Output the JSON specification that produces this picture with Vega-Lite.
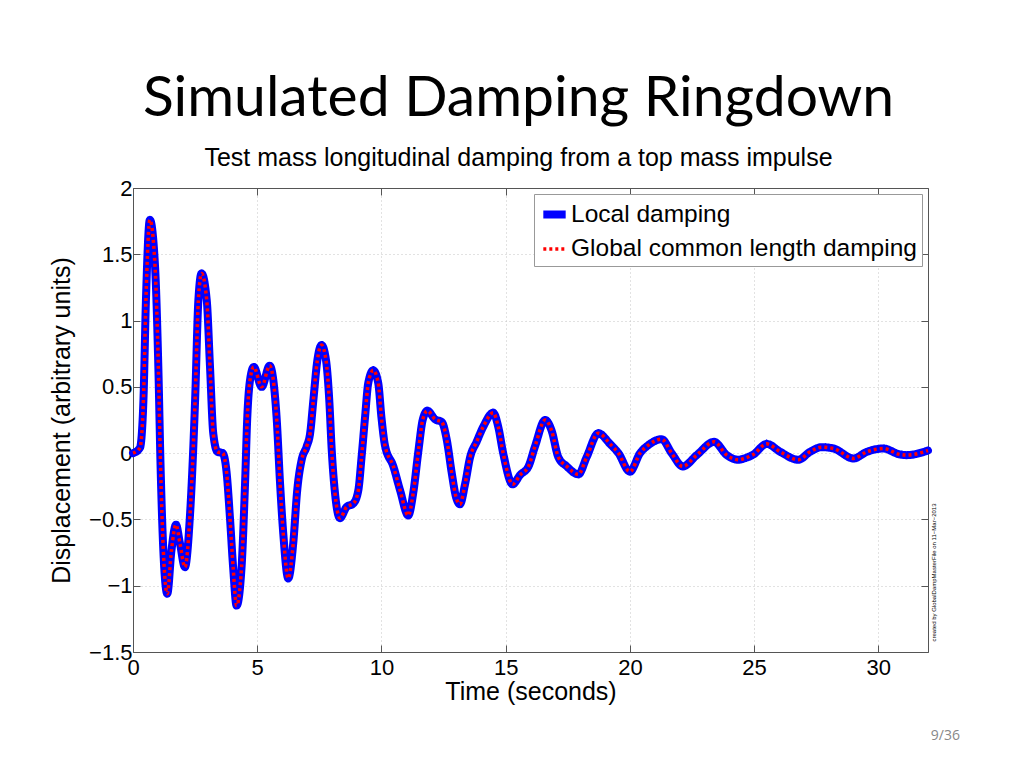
{
  "$schema": "https://vega.github.io/schema/vega-lite/v6.json",
  "autosize": "none",
  "width": 795,
  "height": 464,
  "padding": {"left": 133, "top": 188, "right": 96, "bottom": 116},
  "background": "white",
  "title": {
    "text": "Simulated Damping Ringdown",
    "subtitle": "Test mass longitudinal damping from a top mass impulse",
    "anchor": "middle",
    "font": "Lato",
    "fontSize": 57,
    "fontWeight": "normal",
    "color": "black",
    "subtitleFont": "Liberation Sans",
    "subtitleFontSize": 25,
    "subtitleColor": "black",
    "subtitlePadding": 18,
    "offset": 5,
    "dx": -12
  },
  "datasets": {
    "ringdown": [
      {"t": 0, "d": 0}, {"t": 0.28, "d": 0.04}, {"t": 0.42, "d": 0.4}, {"t": 0.52, "d": 1.15},
      {"t": 0.68, "d": 1.76}, {"t": 0.89, "d": 1.4}, {"t": 1.02, "d": 0.65}, {"t": 1.11, "d": -0.1},
      {"t": 1.22, "d": -0.73}, {"t": 1.38, "d": -1.06}, {"t": 1.55, "d": -0.73}, {"t": 1.73, "d": -0.54},
      {"t": 1.89, "d": -0.68}, {"t": 2.09, "d": -0.86}, {"t": 2.29, "d": -0.48}, {"t": 2.5, "d": 0.4},
      {"t": 2.63, "d": 1.15}, {"t": 2.76, "d": 1.355}, {"t": 2.97, "d": 1.15}, {"t": 3.1, "d": 0.65},
      {"t": 3.23, "d": 0.15}, {"t": 3.4, "d": 0.01}, {"t": 3.61, "d": 0}, {"t": 3.77, "d": -0.15},
      {"t": 3.9, "d": -0.48}, {"t": 4.03, "d": -0.86}, {"t": 4.17, "d": -1.15}, {"t": 4.37, "d": -0.86},
      {"t": 4.51, "d": -0.23}, {"t": 4.6, "d": 0.27}, {"t": 4.71, "d": 0.55}, {"t": 4.86, "d": 0.65},
      {"t": 5.18, "d": 0.5}, {"t": 5.5, "d": 0.66}, {"t": 5.78, "d": 0.27}, {"t": 5.92, "d": -0.23},
      {"t": 6.05, "d": -0.61}, {"t": 6.25, "d": -0.945}, {"t": 6.45, "d": -0.68}, {"t": 6.61, "d": -0.28},
      {"t": 6.79, "d": -0.05}, {"t": 6.99, "d": 0.05}, {"t": 7.13, "d": 0.15}, {"t": 7.26, "d": 0.4},
      {"t": 7.42, "d": 0.7}, {"t": 7.59, "d": 0.815}, {"t": 7.77, "d": 0.7}, {"t": 7.9, "d": 0.4},
      {"t": 8.0, "d": 0.02}, {"t": 8.13, "d": -0.3}, {"t": 8.33, "d": -0.49}, {"t": 8.6, "d": -0.405},
      {"t": 8.87, "d": -0.38}, {"t": 9.07, "d": -0.28}, {"t": 9.2, "d": -0.03}, {"t": 9.34, "d": 0.27},
      {"t": 9.47, "d": 0.53}, {"t": 9.67, "d": 0.625}, {"t": 9.87, "d": 0.53}, {"t": 10.0, "d": 0.27},
      {"t": 10.14, "d": 0.06}, {"t": 10.48, "d": -0.1}, {"t": 10.75, "d": -0.28}, {"t": 11.08, "d": -0.47},
      {"t": 11.28, "d": -0.3}, {"t": 11.49, "d": 0.02}, {"t": 11.66, "d": 0.25}, {"t": 11.85, "d": 0.32},
      {"t": 12.16, "d": 0.255}, {"t": 12.43, "d": 0.235}, {"t": 12.63, "d": 0.1}, {"t": 12.83, "d": -0.15},
      {"t": 13.0, "d": -0.33}, {"t": 13.16, "d": -0.385}, {"t": 13.37, "d": -0.23}, {"t": 13.57, "d": -0.03},
      {"t": 13.83, "d": 0.085}, {"t": 14.1, "d": 0.2}, {"t": 14.5, "d": 0.305}, {"t": 14.7, "d": 0.2},
      {"t": 14.9, "d": 0}, {"t": 15.28, "d": -0.235}, {"t": 15.58, "d": -0.165}, {"t": 15.92, "d": -0.1},
      {"t": 16.18, "d": 0.05}, {"t": 16.59, "d": 0.25}, {"t": 16.85, "d": 0.17}, {"t": 17.12, "d": -0.03},
      {"t": 17.46, "d": -0.1}, {"t": 17.93, "d": -0.16}, {"t": 18.26, "d": -0.03}, {"t": 18.73, "d": 0.15},
      {"t": 19.2, "d": 0.07}, {"t": 19.54, "d": 0}, {"t": 20.0, "d": -0.14}, {"t": 20.41, "d": 0},
      {"t": 20.74, "d": 0.06}, {"t": 21.28, "d": 0.105}, {"t": 21.68, "d": 0}, {"t": 22.13, "d": -0.1},
      {"t": 22.69, "d": -0.015}, {"t": 23.39, "d": 0.085}, {"t": 23.9, "d": -0.015}, {"t": 24.37, "d": -0.05},
      {"t": 24.6, "d": -0.04}, {"t": 24.97, "d": -0.01}, {"t": 25.51, "d": 0.07}, {"t": 26.05, "d": 0.01},
      {"t": 26.78, "d": -0.05}, {"t": 27.25, "d": 0.01}, {"t": 27.72, "d": 0.045}, {"t": 28.2, "d": 0.035},
      {"t": 29.0, "d": -0.04}, {"t": 29.54, "d": 0.01}, {"t": 30.2, "d": 0.035}, {"t": 30.87, "d": -0.01},
      {"t": 31.15, "d": -0.015}, {"t": 32, "d": 0.02}
    ],
    "page": [{"t": 32.7, "d": -2.13, "label": "9/36"}]
  },
  "config": {
    "view": {"stroke": null},
    "axis": {
      "labelFont": "Liberation Sans",
      "labelFontSize": 22,
      "labelColor": "black",
      "titleFont": "Liberation Sans",
      "titleFontSize": 25,
      "titleFontWeight": "normal",
      "titleColor": "black",
      "domainColor": "#555",
      "tickColor": "#555",
      "tickSize": -7,
      "gridColor": "#c4c4c4",
      "gridDash": [1, 3],
      "gridOpacity": 1
    }
  },
  "resolve": {"axis": {"x": "independent", "y": "independent"}},
  "layer": [
    {
      "data": {"name": "ringdown"},
      "mark": {"type": "line", "interpolate": "monotone", "strokeCap": "round", "strokeJoin": "round"},
      "encoding": {
        "x": {"field": "t", "type": "quantitative", "scale": {"domain": [0, 32], "nice": false},
          "axis": {"values": [0, 5, 10, 15, 20, 25, 30], "format": "~g", "title": "Time (seconds)", "labelPadding": 12, "titlePadding": 1, "grid": true, "labelFlush": false}},
        "y": {"field": "d", "type": "quantitative", "scale": {"domain": [-1.5, 2], "nice": false},
          "axis": {"values": [-1.5, -1, -0.5, 0, 0.5, 1, 1.5, 2], "format": "~g", "title": "Displacement (arbitrary units)", "labelPadding": 8, "titlePadding": 14, "grid": true, "labelFlush": false}},
        "color": {"datum": "Local damping", "type": "nominal",
          "scale": {"domain": ["Local damping", "Global common length damping"], "range": ["#0000ff", "#ff0000"]},
          "legend": {"title": null, "orient": "top-right", "offset": 6, "symbolType": "stroke", "symbolSize": 500,
            "labelFont": "Liberation Sans", "labelFontSize": 24.5, "labelColor": "black", "strokeColor": "#999", "fillColor": "white",
            "padding": 5, "rowPadding": 5, "labelOffset": 1, "labelLimit": 500}},
        "strokeDash": {"datum": "Local damping", "type": "nominal",
          "scale": {"domain": ["Local damping", "Global common length damping"], "range": [[1, 0], [3, 3]]}},
        "strokeWidth": {"datum": "Local damping", "type": "nominal",
          "scale": {"domain": ["Local damping", "Global common length damping"], "range": [8, 3.5]}}
      }
    },
    {
      "data": {"name": "ringdown"},
      "mark": {"type": "line", "interpolate": "monotone", "strokeCap": "butt"},
      "encoding": {
        "x": {"field": "t", "type": "quantitative",
          "axis": {"orient": "top", "values": [0, 5, 10, 15, 20, 25, 30], "labels": false, "title": null, "grid": false, "domain": true}},
        "y": {"field": "d", "type": "quantitative",
          "axis": {"orient": "right", "values": [-1.5, -1, -0.5, 0, 0.5, 1, 1.5, 2], "labels": false, "grid": false, "domain": true,
            "title": "created by GlobalDampMasterFile on 11\u2212Mar\u22122013", "titleFontSize": 6, "titleAngle": 270, "titleY": 384, "titlePadding": 2, "titleBaseline": "top"}},
        "color": {"datum": "Global common length damping", "type": "nominal"},
        "strokeDash": {"datum": "Global common length damping", "type": "nominal"},
        "strokeWidth": {"datum": "Global common length damping", "type": "nominal"}
      }
    },
    {
      "data": {"name": "page"},
      "mark": {"type": "text", "font": "Open Sans", "fontSize": 14, "color": "#888"},
      "encoding": {
        "x": {"field": "t", "type": "quantitative", "axis": null},
        "y": {"field": "d", "type": "quantitative", "axis": null},
        "text": {"field": "label"}
      }
    }
  ]
}
